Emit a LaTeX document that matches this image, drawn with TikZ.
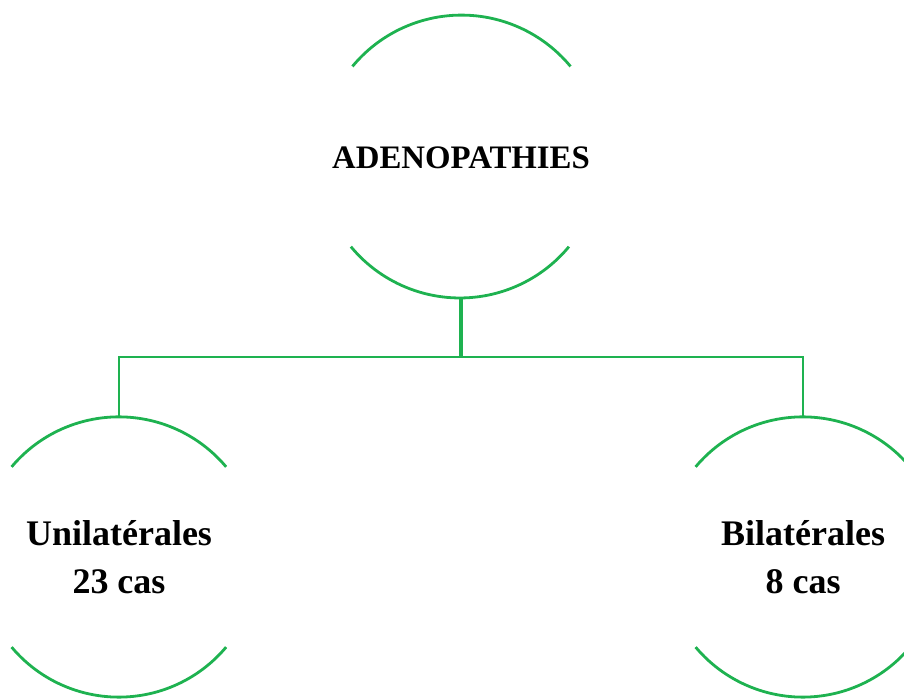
\documentclass[tikz,border=0pt]{standalone}
\usepackage{fontspec}
\setmainfont{Liberation Serif}
\definecolor{lineGreen}{RGB}{30,178,80}
\begin{document}
\begin{tikzpicture}[x=1pt,y=1pt,
  ring/.style={circle,draw=none,inner sep=0pt,align=center},
  bigtext/.style={font={\fontsize{32.8}{38}\selectfont\bfseries}},
  labeltext/.style={font={\fontsize{36}{48}\selectfont\bfseries}},
  arcline/.style={draw=lineGreen,line width=2.8pt},
  link/.style={draw=lineGreen,line width=2.8pt},
  stem/.style={draw=lineGreen,line width=4.8pt}]
\useasboundingbox (0,0) rectangle (904,700);
\clip (0,0) rectangle (904,700);
\node[ring,bigtext,minimum size=283pt] (top) at (461,542.5) {ADENOPATHIES};
\node[ring,labeltext,minimum size=280pt] (left) at (119,143) {Unilatérales\\23 cas};
\node[ring,labeltext,minimum size=280pt] (right) at (803,143) {Bilatérales\\8 cas};
\coordinate (hub) at (461,343);
% arcs
\draw[arcline] (top.140.4) arc (140.4:39.6:141.5);
\draw[arcline] (top.219.6) arc (219.6:320.4:141.5);
\draw[arcline] (left.140) arc (140:40:140);
\draw[arcline] (left.220) arc (220:320:140);
\draw[arcline] (right.140) arc (140:40:140);
\draw[arcline] (right.220) arc (220:320:140);
% connectors
\draw[link] (left.north) |- (hub) -| (right.north);
\draw[stem] (top.south) -- (hub);
\end{tikzpicture}
\end{document}
